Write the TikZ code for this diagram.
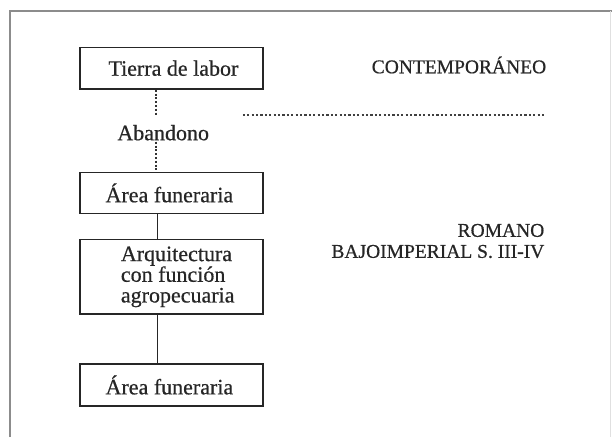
\documentclass[tikz,border=0pt]{standalone}
\usepackage{fontspec}
\setmainfont{Liberation Serif}
\newfontfamily\diagfont{Liberation Serif}[FakeBold=0.6]
\begin{document}
\begin{tikzpicture}[x=1pt,y=-1pt,
  every node/.style={font=\diagfont\fontsize{22}{20.7}\selectfont, text=black!85, inner sep=0pt},
  periodlabel/.style={font=\diagfont\fontsize{19.5}{21}\selectfont, anchor=east},
  stagebox/.style={draw=black!85, line width=1.4pt, minimum width=183pt, anchor=north west},
  link/.style={draw=black!85, line width=1.4pt},
  dotlink/.style={draw=black!80, line width=1.4pt, dash pattern=on 2pt off 1.8pt},
  divider/.style={draw=black!75, line width=1.6pt, dash pattern=on 2.2pt off 2.2pt},
  frameline/.style={draw=black!45, line width=1.6pt}]
\useasboundingbox (0,0) rectangle (612,437);
% frame
\draw[frameline] (10,437) -- (10,11) -- (612,11);
\draw[draw=black!12, line width=1pt] (610.5,11) -- (610.5,437);
% boxes
\node[stagebox, minimum height=41.6pt] (b1) at (79.2,46.7) {};
\node (t1) at ([xshift=2pt]b1.center) {Tierra de labor};
\node (ab) at (163.2,132.7) {Abandono};
\node[stagebox, minimum height=41pt] (b2) at (79.2,171.7) {};
\node (t2) at ([xshift=-2pt]b2.center) {Área funeraria};
\node[stagebox, minimum height=74.3pt] (b3) at (79.2,239) {};
\node[anchor=west, align=left] (t3) at ([xshift=41.5pt]b3.west) {Arquitectura\\con función\\agropecuaria};
\node[stagebox, minimum height=42pt] (b4) at (79.2,363.3) {};
\node (t4) at ([xshift=-2pt]b4.center) {Área funeraria};
% connectors
\coordinate (d1a) at (156.1,88.3);
\coordinate (d1b) at (156.1,115);
\coordinate (d2a) at (156.1,141.7);
\draw[dotlink] (b1.south -| d1a) -- (d1b);
\draw[dotlink] (d2a) -- (b2.north -| d2a);
\coordinate (s1) at (157.3,0);
\draw[link] (b2.south -| s1) -- (b3.north -| s1);
\draw[link] (b3.south -| s1) -- (b4.north -| s1);
% period divider
\coordinate (pd1) at (242.8,115);
\coordinate (pd2) at (545.7,115);
\draw[divider] (pd1) -- (pd2);
% period labels
\node[periodlabel] (p1) at (546.4,65) {CONTEMPORÁNEO};
\node[periodlabel, align=right] (p2) at (544.5,241) {ROMANO\\BAJOIMPERIAL S. III-IV};
\end{tikzpicture}
\end{document}
